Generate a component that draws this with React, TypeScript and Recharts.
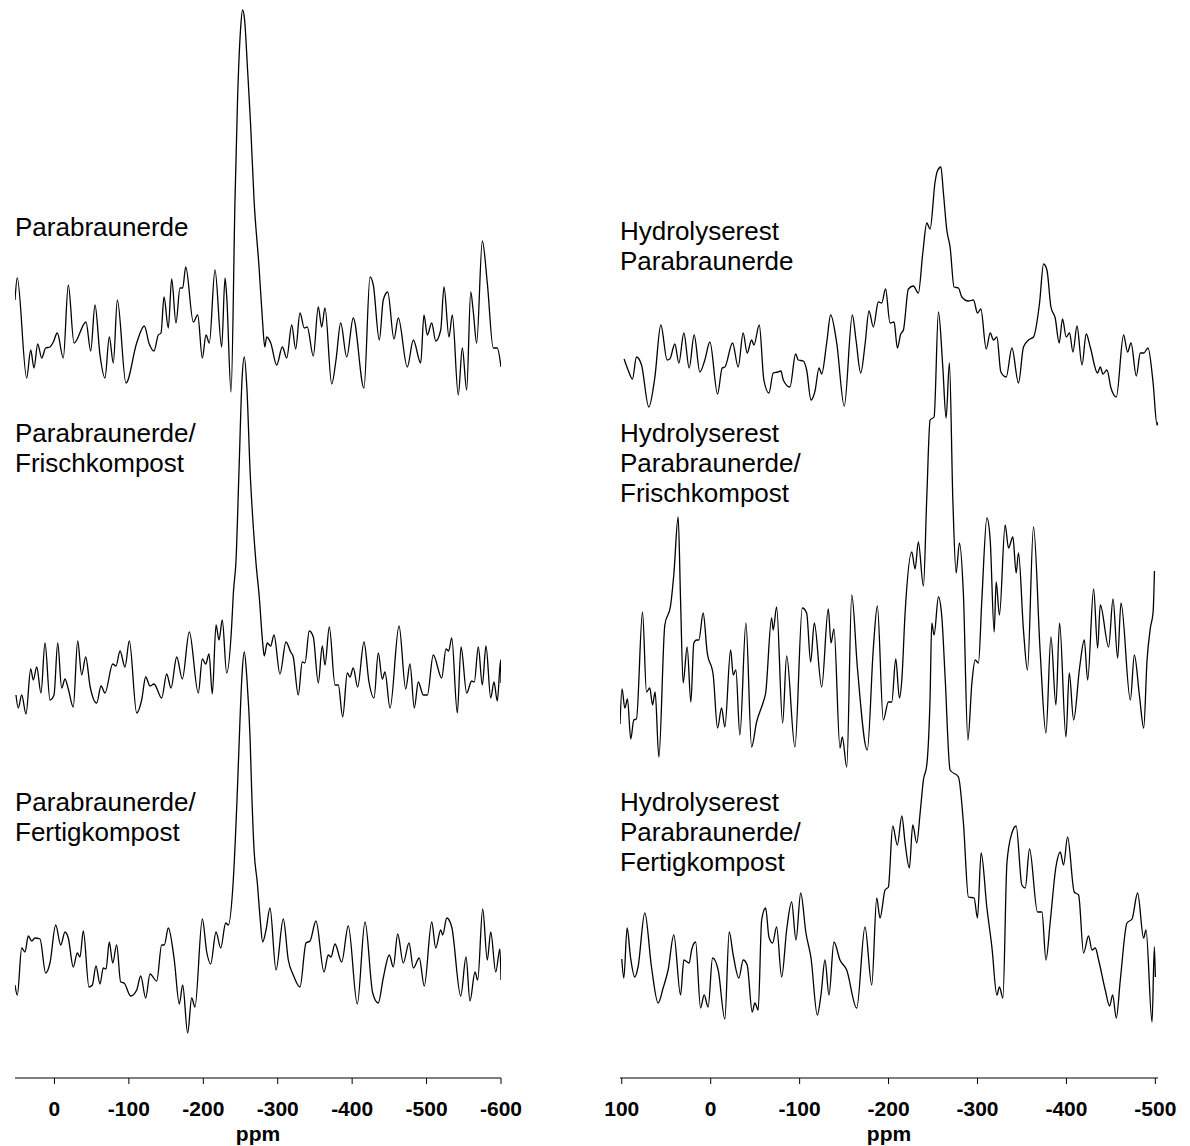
import React from "react"
import { LineChart, Line, XAxis, YAxis, Label } from "recharts"

// ppm / intensity pairs (intensity above each trace's own floor)
const parabraunerde: [number, number][] = [
  [53,100],[50,122],[37.3,22],[31.9,50],[27.5,32],[22.5,56],[17.1,42],[11.8,52],[6,53],[1.5,58],[-3.8,67],[-11.9,42],[-18.6,115],[-26.3,57],[-42.4,78],[-48.7,49],[-54.5,95],[-61.2,45],[-67.9,22],[-73.7,63],[-79.1,37],[-84.5,100],[-96.1,17],[-110.5,57],[-120.7,74],[-127.4,56],[-133.8,49],[-139.5,65],[-143.2,67],[-147.2,103],[-153,72],[-157.5,121],[-163.3,77],[-168.7,112],[-172.3,112],[-176.4,133],[-186.6,78],[-192.5,85],[-198.7,42],[-203.6,65],[-208.1,57],[-215.7,130],[-224.7,53],[-229.2,122],[-231.5,103],[-237.3,8],[-242.6,200],[-246,300],[-250,370],[-252.8,390],[-255.5,380],[-259.5,330],[-263.6,275],[-268.2,200],[-274.9,133],[-279.5,80],[-282.6,53],[-285.2,63],[-290.6,57],[-298.6,35],[-306.2,53],[-312.1,42],[-318.8,75],[-324.1,51],[-329.9,87],[-335.7,72],[-339.7,73],[-347.8,44],[-354.5,93],[-359.1,73],[-363.5,92],[-372.5,16],[-378.3,40],[-384.6,77],[-392.7,43],[-401.5,82],[-415.9,12],[-424,123],[-428.4,115],[-436.5,60],[-441.8,100],[-447.8,108],[-456.2,61],[-462,82],[-474.1,33],[-482.2,60],[-492.1,37],[-496.5,85],[-501,65],[-506.9,77],[-512.3,59],[-519,70],[-523.4,113],[-530.1,63],[-534.6,85],[-542.6,5],[-548,52],[-553.9,10],[-559.3,108],[-562.8,88],[-567.3,57],[-574.9,159],[-581.6,117],[-589.6,52],[-595,52],[-600,33],
]

const frischkompost: [number, number][] = [
  [51.7,25],[48.6,12],[44,25],[38.2,6],[31.9,51],[28.4,40],[23.8,53],[18.1,27],[12.7,77],[6,20],[0.6,25],[-4.4,77],[-9.7,32],[-14.2,41],[-18.6,31],[-25.3,13],[-31.2,79],[-36.6,45],[-42,63],[-47.8,34],[-56.8,17],[-62.6,34],[-67.9,27],[-78.3,56],[-82.7,54],[-88.1,69],[-94.8,53],[-100.6,79],[-110.5,7],[-117.2,20],[-122.6,43],[-128.4,34],[-133.8,36],[-144.1,22],[-150.8,46],[-156.6,32],[-164.3,63],[-171.8,41],[-181.2,88],[-193.3,27],[-198.7,61],[-203.2,56],[-207.7,66],[-212.1,26],[-217.1,95],[-221.1,80],[-225.5,100],[-231.4,47],[-238.2,95],[-240.4,127],[-244,160],[-248,250],[-252,340],[-255.1,363],[-258.7,330],[-262.8,250],[-267.2,193],[-270.8,157],[-275.2,123],[-279.8,77],[-281.9,64],[-285.9,77],[-290.5,74],[-295,85],[-303,46],[-311.1,78],[-317.4,68],[-320.9,63],[-327.6,25],[-333,58],[-336.6,57],[-342.4,89],[-347.8,83],[-354.5,37],[-359.9,74],[-363.5,55],[-369.3,93],[-377,35],[-381.4,35],[-387.3,3],[-393.5,47],[-397.1,43],[-401.5,52],[-407.4,33],[-415.9,78],[-422.6,38],[-429.4,22],[-435.1,67],[-440.5,41],[-444.1,48],[-450.9,12],[-463,94],[-472,31],[-477.7,56],[-483.5,12],[-488.9,38],[-495.6,25],[-501,25],[-509,65],[-520.3,42],[-526.1,71],[-529.7,69],[-533.8,82],[-541.3,7],[-546.3,73],[-553.9,27],[-560.6,39],[-564.1,38],[-569.5,73],[-574.9,35],[-579.8,74],[-586.2,22],[-590.6,38],[-595,19],[-599.6,60],[-600,37],
]

const fertigkompost: [number, number][] = [
  [53,55],[49.9,45],[44,92],[39.6,88],[35.1,104],[30.6,99],[26.1,102],[19.4,101],[11.8,67],[6,77],[-1.7,115],[-8.4,95],[-14.2,108],[-18.6,102],[-25.3,73],[-30.7,87],[-34.3,83],[-38.8,109],[-46.4,53],[-50.9,55],[-55.8,74],[-61.2,56],[-65.6,72],[-69.3,71],[-73.7,98],[-78.3,77],[-83.6,95],[-89,58],[-93.5,57],[-102.5,44],[-110.5,50],[-115.9,64],[-122.6,42],[-128.4,66],[-137.4,59],[-144.1,95],[-147.6,95],[-153,112],[-161,80],[-167.8,36],[-172.3,55],[-179,7],[-184.4,42],[-188.8,33],[-198.7,121],[-204.6,88],[-209.9,76],[-217.1,108],[-223.4,92],[-230.1,117],[-233.6,115],[-240.3,160],[-245.3,240],[-249.3,320],[-252,365],[-255.1,388],[-258.7,360],[-262.8,303],[-265.1,247],[-268.2,190],[-272.6,157],[-276.2,123],[-279.8,98],[-284.3,110],[-289.6,132],[-297.7,70],[-307.5,121],[-314.2,80],[-320.9,65],[-329.9,53],[-338,97],[-343.4,99],[-351.4,119],[-362.2,68],[-367.9,85],[-371.6,83],[-376.9,96],[-385.9,78],[-394.8,114],[-406.9,36],[-417.3,118],[-427.6,47],[-435.1,37],[-441.8,62],[-449.9,85],[-455.3,73],[-461.2,106],[-468.7,77],[-476.4,97],[-482.2,72],[-490.2,82],[-496.9,54],[-506.9,118],[-512.3,92],[-519,110],[-521.7,105],[-527.1,122],[-533.8,113],[-545.9,44],[-553,83],[-558.3,39],[-565.1,68],[-568.7,60],[-575.4,131],[-581.6,80],[-586.2,108],[-592.9,68],[-598.6,91],[-600,60],
]

const hydroParabraunerde: [number, number][] = [
  [97.4,71],[92.9,60],[88,51],[83.5,73],[77.8,65],[69.6,23],[62.9,52],[56.1,105],[49,70],[46,71],[40.3,86],[35.8,67],[30.2,97],[24.2,62],[18.6,95],[12.2,58],[6.6,70],[0.9,88],[-7.7,36],[-12.9,62],[-15.9,63],[-24.6,87],[-30.9,63],[-36.5,97],[-41,77],[-46,90],[-48.6,85],[-54.6,105],[-59.8,50],[-65.5,37],[-70.3,57],[-75.3,58],[-79,59],[-81.6,50],[-89.1,43],[-95.5,76],[-98.5,70],[-104.1,69],[-107.9,60],[-112.8,30],[-117.3,39],[-121.8,62],[-124.8,56],[-130.4,87],[-134.9,115],[-141.7,87],[-150.2,24],[-159.3,115],[-163.4,90],[-168.7,57],[-173.5,85],[-178,119],[-182.9,103],[-188.5,128],[-192.3,127],[-196.6,141],[-201.7,107],[-206.2,108],[-209.9,82],[-213.7,96],[-216.7,100],[-222.3,141],[-227.9,144],[-233.5,137],[-238.5,177],[-243,207],[-246.7,201],[-252.3,248],[-254.9,259],[-258.8,263],[-261.7,237],[-265.5,200],[-269.2,183],[-273.7,143],[-278.6,142],[-282.4,133],[-289.8,129],[-295.5,130],[-300,117],[-303.8,121],[-309.8,81],[-314.3,97],[-318,90],[-321.8,93],[-326.3,58],[-332.3,53],[-338.7,82],[-346.1,47],[-351.7,83],[-357.4,90],[-363,93],[-369.8,127],[-374.3,166],[-378.1,160],[-382.6,123],[-387.4,112],[-391.9,87],[-395.6,111],[-399.8,93],[-403.5,97],[-407.4,78],[-411.9,104],[-417.5,65],[-422.3,96],[-426.8,83],[-435,57],[-438.1,63],[-441.1,56],[-445.6,60],[-450.1,42],[-456.1,33],[-464.3,95],[-468.8,78],[-472.7,87],[-478.6,54],[-483.1,77],[-486.9,77],[-491.8,82],[-497.5,47],[-501.9,5],[-503,8],
]

const hydroFrischkompost: [number, number][] = [
  [102,46],[99.7,81],[96.6,62],[93.6,71],[89.9,31],[86.5,50],[83.5,51],[76.7,158],[72.2,78],[68.5,82],[65.4,65],[62.5,78],[58.3,13],[51.6,145],[45.2,164],[41.5,195],[36.6,253],[33.9,170],[31,87],[26.5,123],[22.3,68],[19,127],[15.9,130],[13.3,130],[8.5,157],[4,118],[-2.8,95],[-7.7,42],[-12.2,62],[-15.9,43],[-22.4,120],[-25.3,95],[-28.3,100],[-32.8,35],[-39.6,147],[-46,23],[-51.6,48],[-59.1,68],[-61.8,77],[-68.5,152],[-70.3,140],[-74.1,163],[-80.9,47],[-85.4,114],[-94.7,23],[-103,162],[-107.9,157],[-112.4,108],[-116.5,147],[-124.8,83],[-132.2,161],[-135.3,127],[-138.6,141],[-145.4,22],[-148,33],[-153,3],[-158.6,175],[-164.9,103],[-176.1,20],[-182.9,122],[-187.4,164],[-194.1,50],[-199.8,68],[-203.6,68],[-208.1,111],[-212.2,72],[-214.9,90],[-218.6,157],[-226.1,218],[-229.8,201],[-233.5,228],[-239.2,184],[-243,273],[-246.7,350],[-251.2,353],[-256.1,458],[-261,403],[-264.7,352],[-268.4,407],[-272.3,270],[-276,197],[-279.7,227],[-284.2,175],[-289.2,30],[-293.7,87],[-297.4,110],[-301.1,107],[-304.9,170],[-310.6,252],[-314.3,230],[-318.8,138],[-321,188],[-324.7,155],[-331.1,245],[-334.9,222],[-339.8,233],[-343.5,197],[-346.1,217],[-351.7,140],[-356.2,100],[-363,243],[-370.5,118],[-377,37],[-382.6,133],[-388.2,65],[-392.3,147],[-399.5,33],[-403.2,97],[-408.1,50],[-414.8,102],[-420.1,130],[-423.9,90],[-430.6,181],[-435.1,122],[-438.1,165],[-447.5,123],[-452.4,171],[-457.6,112],[-461.4,167],[-471.9,70],[-476.4,115],[-482.3,73],[-486.9,42],[-490.7,110],[-494.4,142],[-497.5,158],[-499,199],
]

const hydroFertigkompost: [number, number][] = [
  [100,66],[97.7,47],[94,97],[90.2,68],[85.4,48],[81.7,58],[74.1,112],[66.6,58],[59.1,22],[53.5,37],[47.9,55],[41.5,90],[33.9,30],[30.2,65],[24.2,62],[21.5,75],[17,83],[11.4,17],[7.4,30],[2.9,18],[-2.1,67],[-8.4,55],[-15.9,6],[-20.8,93],[-25.3,70],[-31.7,47],[-36.5,65],[-41,60],[-46.7,13],[-49.7,22],[-53.4,15],[-57.3,105],[-61.8,117],[-65.5,88],[-69.6,82],[-74.1,98],[-79.8,48],[-85.4,95],[-91,123],[-95.9,85],[-101.2,132],[-107.1,92],[-112.8,67],[-119.9,10],[-124,30],[-128.5,65],[-133,30],[-138.6,83],[-145.4,65],[-152.9,55],[-164.2,17],[-173.5,98],[-181.1,40],[-186.7,127],[-190.4,107],[-196.1,135],[-199.8,138],[-204.7,199],[-209.9,180],[-214.9,209],[-218.6,182],[-223.4,157],[-227.2,200],[-231.7,182],[-235.5,212],[-239.2,245],[-243,260],[-246.7,328],[-248.6,402],[-251.2,390],[-256.1,428],[-259.9,408],[-263.6,348],[-269.2,255],[-278.6,248],[-284.2,202],[-289.8,128],[-296.2,127],[-300,107],[-304.1,172],[-310.6,117],[-316.2,78],[-321.8,30],[-324.7,38],[-328.6,27],[-333.1,162],[-338.7,192],[-343.5,199],[-349.9,140],[-353.7,137],[-358.5,176],[-367.5,113],[-372.5,113],[-377,65],[-381.8,103],[-388.2,158],[-393.1,173],[-396.8,160],[-401.3,188],[-408.8,133],[-413.7,130],[-419.3,72],[-424.9,89],[-428.8,75],[-432.5,77],[-436.2,65],[-443.7,35],[-448.6,19],[-452,30],[-456.1,7],[-460.6,45],[-468.1,102],[-473.8,106],[-480.1,132],[-486.8,87],[-489.5,95],[-496.3,3],[-498.9,78],[-500,48],
]

const leftTicks = [0, -100, -200, -300, -400, -500, -600]
const rightTicks = [100, 0, -100, -200, -300, -400, -500]

const FONT = "Arial, 'Liberation Sans', sans-serif"
const CHART_H = 1146
const AXIS_H = 68
const PLOT_H = CHART_H - AXIS_H

type Trace = { data: [number, number][]; lift: number }

function Panel(props: {
  left: number
  width: number
  marginLeft: number
  marginRight: number
  domain: [number, number]
  ticks: number[]
  traces: Trace[]
}) {
  const { left, width, marginLeft, marginRight, domain, ticks, traces } = props
  return (
    <div style={{ position: "absolute", left, top: 0 }}>
      <LineChart
        width={width}
        height={CHART_H}
        margin={{ top: 0, right: marginRight, bottom: 0, left: marginLeft }}
      >
        <XAxis
          dataKey="ppm"
          type="number"
          domain={domain}
          reversed
          allowDataOverflow
          ticks={ticks}
          interval={0}
          height={AXIS_H}
          stroke="#000"
          tickSize={6}
          tickMargin={17}
          tick={{ fill: "#000", fontSize: 21, fontWeight: "bold", fontFamily: FONT }}
        >
          <Label
            value="ppm"
            position="insideBottom"
            offset={5}
            style={{ fill: "#000", fontSize: 21, fontWeight: "bold", fontFamily: FONT }}
          />
        </XAxis>
        <YAxis hide type="number" domain={[0, PLOT_H]} allowDataOverflow />
        {traces.map((t, i) => (
          <Line
            key={i}
            data={t.data.map(([ppm, v]) => ({ ppm, v: v + t.lift }))}
            dataKey="v"
            type="monotone"
            stroke="#000"
            strokeWidth={1.3}
            dot={false}
            activeDot={false}
            isAnimationActive={false}
          />
        ))}
      </LineChart>
    </div>
  )
}

const labelStyle: React.CSSProperties = {
  position: "absolute",
  fontFamily: FONT,
  fontSize: 26,
  lineHeight: "30px",
  color: "#000",
  whiteSpace: "pre",
}

function Caption({ x, y, lines }: { x: number; y: number; lines: string[] }) {
  return (
    <div style={{ ...labelStyle, left: x, top: y }}>
      {lines.map((l, i) => (
        <div key={i}>{l}</div>
      ))}
    </div>
  )
}

export default function App() {
  return (
    <div style={{ position: "absolute", left: 0, top: 0, width: 1190, height: CHART_H, background: "#fff" }}>
      <Panel
        left={0}
        width={560}
        marginLeft={15}
        marginRight={59}
        domain={[-600, 53]}
        ticks={leftTicks}
        traces={[
          { data: parabraunerde, lift: 678 },
          { data: frischkompost, lift: 358 },
          { data: fertigkompost, lift: 38 },
        ]}
      />
      <Panel
        left={600}
        width={590}
        marginLeft={20}
        marginRight={32}
        domain={[-503, 102]}
        ticks={rightTicks}
        traces={[
          { data: hydroParabraunerde, lift: 648 },
          { data: hydroFrischkompost, lift: 308 },
          { data: hydroFertigkompost, lift: 53 },
        ]}
      />
      <Caption x={15} y={212} lines={["Parabraunerde"]} />
      <Caption x={15} y={418} lines={["Parabraunerde/", "Frischkompost"]} />
      <Caption x={15} y={787} lines={["Parabraunerde/", "Fertigkompost"]} />
      <Caption x={620} y={216} lines={["Hydrolyserest", "Parabraunerde"]} />
      <Caption x={620} y={418} lines={["Hydrolyserest", "Parabraunerde/", "Frischkompost"]} />
      <Caption x={620} y={787} lines={["Hydrolyserest", "Parabraunerde/", "Fertigkompost"]} />
    </div>
  )
}
